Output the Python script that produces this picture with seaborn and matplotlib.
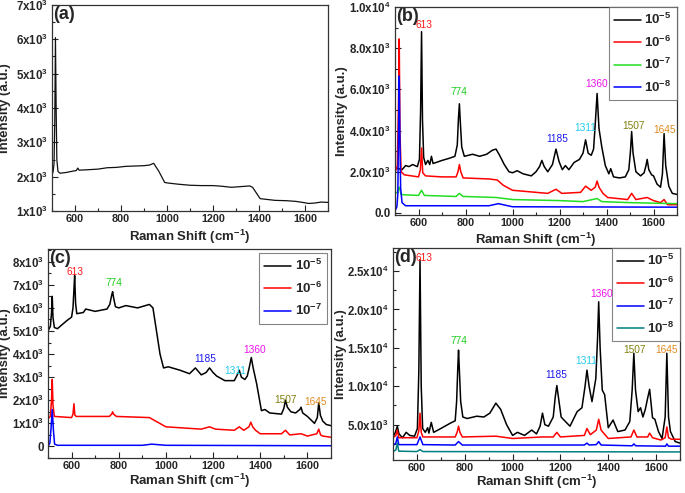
import matplotlib
matplotlib.use("Agg")
import matplotlib.pyplot as plt
from matplotlib.ticker import AutoMinorLocator
import seaborn as sns

# %% data
# panel (a): bare substrate
a_x = [500, 505, 509, 512, 515, 518, 521, 526, 535, 560, 590, 606, 612, 618, 650, 700, 740, 780, 820,
       860, 900, 925, 942, 965, 990, 1010, 1050, 1100, 1150, 1200, 1240, 1280, 1320, 1360, 1372,
       1405, 1430, 1470, 1520, 1560, 1590, 1615, 1640, 1670, 1700]
a_y = [2050, 2150, 2400, 3600, 6050, 4000, 2500, 2150, 2100, 2120, 2160, 2180, 2250, 2190, 2200, 2220,
       2260, 2270, 2300, 2310, 2320, 2340, 2390, 2150, 1830, 1810, 1780, 1750, 1740, 1740, 1720,
       1690, 1710, 1730, 1690, 1360, 1340, 1310, 1300, 1280, 1250, 1220, 1230, 1260, 1250]

# panel (b)
b5_x = [500, 515, 530, 545, 560, 575, 595, 604, 609, 613, 617, 622, 630, 640, 648, 655, 662, 675, 700,
        730, 755, 765, 770, 774, 778, 784, 795, 830, 860, 890, 915, 930, 945, 965, 985, 1000, 1020,
        1045, 1080, 1100, 1115, 1125, 1135, 1150, 1170, 1185, 1198, 1212, 1225, 1240, 1262, 1285,
        1300, 1311, 1322, 1335, 1345, 1352, 1360, 1368, 1380, 1395, 1410, 1418, 1430, 1455, 1480,
        1495, 1502, 1507, 1513, 1525, 1545, 1560, 1568, 1573, 1580, 1592, 1600, 1615, 1630, 1638,
        1645, 1652, 1665, 1680, 1700]
b5_y = [2200, 2150, 2100, 2300, 2250, 2350, 2250, 2600, 5000, 8800, 4500, 2700, 2350, 2550, 2350, 2750,
        2400, 2450, 2550, 2650, 2750, 3300, 4600, 5300, 4400, 3200, 2750, 2850, 2750, 2850, 3050,
        3100, 2800, 2350, 2000, 1950, 2050, 1900, 1800, 2000, 2250, 2550, 2250, 2000, 2350, 3100,
        2500, 2100, 2300, 2100, 2450, 2600, 2900, 3550, 2900, 2800, 3100, 4300, 5800, 4100, 3200,
        2300, 1900, 2150, 1750, 1700, 1750, 2100, 3000, 3950, 2900, 2000, 1800, 1950, 2300, 2600,
        2100, 1850, 1800, 1400, 1250, 1900, 3850, 2300, 1300, 950, 900]

b6_x = [500, 510, 515, 518, 521, 526, 540, 600, 608, 613, 618, 630, 700, 760, 768, 774, 780, 790, 900,
        935, 960, 1000, 1100, 1150, 1185, 1210, 1290, 1311, 1335, 1352, 1360, 1368, 1385, 1405, 1490,
        1507, 1525, 1573, 1600, 1630, 1645, 1660, 1700]
b6_y = [1950, 2300, 5500, 8450, 4000, 2000, 1850, 1750, 2100, 3150, 1950, 1800, 1750, 1750, 2000,
        2350, 2000, 1700, 1650, 1600, 1350, 1100, 1000, 950, 1150, 950, 1000, 1300, 1100, 1250,
        1550, 1250, 950, 750, 650, 950, 650, 750, 600, 500, 650, 400, 400]

b7_x = [500, 510, 518, 526, 540, 600, 613, 625, 760, 774, 790, 930, 1000, 1200, 1300, 1360, 1380, 1500,
        1700]
b7_y = [950, 1000, 1250, 900, 880, 850, 1100, 850, 800, 950, 800, 750, 650, 600, 550, 700, 550, 500,
        450]

b8_x = [500, 508, 512, 515, 518, 521, 524, 530, 545, 613, 900, 940, 1000, 1700]
b8_y = [100, 300, 900, 4000, 6650, 3500, 1200, 500, 350, 350, 350, 450, 300, 280]

# panel (c)
c5_x = [500, 510, 515, 518, 521, 527, 540, 580, 600, 606, 610, 613, 617, 622, 650, 660, 700, 750, 762,
        770, 774, 778, 786, 800, 830, 880, 930, 945, 960, 975, 990, 1010, 1060, 1100, 1125, 1150,
        1170, 1185, 1200, 1215, 1250, 1290, 1305, 1311, 1320, 1335, 1345, 1353, 1362, 1370, 1385,
        1405, 1420, 1440, 1490, 1500, 1507, 1515, 1530, 1550, 1568, 1573, 1580, 1600, 1630, 1642,
        1648, 1655, 1665, 1680, 1700]
c5_y = [5000, 5200, 5800, 6500, 5600, 5150, 5100, 5450, 5600, 6000, 6800, 7400, 6200, 5750, 5800,
        5950, 5850, 5950, 6150, 6550, 6700, 6450, 6050, 6000, 6100, 6000, 6150, 6000, 5000, 4000,
        3400, 3450, 3300, 3150, 3400, 3100, 3200, 3400, 3200, 3050, 2850, 2850, 3150, 3300, 3000,
        2900, 3050, 3400, 3850, 3400, 2700, 1550, 1600, 1450, 1400, 1650, 2000, 1700, 1500, 1450,
        1600, 1700, 1450, 1300, 1000, 1250, 1900, 1350, 1100, 950, 900]

c6_x = [500, 510, 515, 518, 521, 527, 600, 606, 610, 614, 620, 760, 770, 774, 778, 790, 930, 1000,
        1150, 1185, 1210, 1290, 1311, 1330, 1352, 1360, 1368, 1380, 1400, 1490, 1507, 1525, 1573,
        1600, 1640, 1648, 1656, 1665, 1700]
c6_y = [1200, 1300, 2000, 2900, 1800, 1300, 1250, 1400, 1850, 1350, 1300, 1300, 1400, 1500, 1400,
        1300, 1250, 850, 750, 850, 750, 700, 850, 700, 850, 1050, 850, 700, 550, 550, 700, 500,
        550, 450, 550, 750, 500, 450, 400]

c7_x = [500, 508, 513, 518, 523, 528, 540, 600, 900, 940, 1000, 1700]
c7_y = [0, 150, 800, 1600, 700, 100, 50, 50, 50, 100, 50, 30]

# panel (d)
d5_x = [500, 510, 518, 525, 540, 555, 570, 590, 602, 608, 613, 618, 624, 635, 645, 650, 660, 670, 700,
        740, 760, 766, 771, 774, 777, 783, 792, 810, 850, 880, 905, 930, 950, 975, 1000, 1020, 1050,
        1080, 1100, 1115, 1125, 1135, 1150, 1170, 1178, 1185, 1192, 1203, 1215, 1240, 1270, 1290,
        1303, 1311, 1320, 1332, 1348, 1355, 1360, 1366, 1375, 1385, 1400, 1420, 1440, 1470, 1490,
        1500, 1507, 1514, 1525, 1535, 1545, 1555, 1565, 1573, 1580, 1585, 1595, 1610, 1625, 1638,
        1645, 1652, 1660, 1680, 1700]
d5_y = [3400, 4000, 4800, 3800, 3300, 4000, 3600, 3500, 4500, 12000, 26500, 10000, 4500, 4000, 4600,
        3900, 5300, 4000, 4500, 5200, 5500, 8000, 12500, 14700, 12500, 8000, 6000, 5800, 6100,
        6000, 6500, 7800, 7000, 5000, 3600, 4000, 3600, 4300, 3800, 4800, 6500, 5000, 4800, 6000,
        8500, 10100, 8500, 6000, 5600, 4800, 6700, 7200, 10000, 12100, 10000, 8000, 11000, 16000,
        21000, 15000, 9500, 8900, 4600, 5600, 4100, 4300, 5400, 9500, 14300, 9500, 6700, 7200,
        6000, 7000, 8500, 9600, 7500, 5900, 5700, 4100, 3200, 6000, 14300, 6000, 4100, 2800, 2600]

d6_x = [500, 512, 518, 524, 600, 608, 613, 618, 625, 760, 768, 774, 780, 790, 930, 1000, 1125, 1170,
        1185, 1200, 1300, 1311, 1325, 1350, 1360, 1370, 1400, 1495, 1507, 1520, 1565, 1573, 1585,
        1620, 1638, 1645, 1652, 1665, 1700]
d6_y = [3300, 3600, 4300, 3300, 3300, 4200, 6500, 4000, 3400, 3400, 4000, 4800, 4000, 3400, 3500,
        3200, 3400, 3400, 4000, 3400, 3600, 4500, 3700, 4300, 5700, 4300, 3200, 3400, 4300, 3400,
        3400, 3900, 3300, 3000, 3300, 4700, 3300, 3100, 3100]

d7_x = [500, 512, 518, 524, 600, 613, 625, 760, 774, 790, 1300, 1311, 1320, 1350, 1360, 1370, 1500,
        1507, 1515, 1640, 1645, 1652, 1700]
d7_y = [2300, 2600, 3400, 2400, 2400, 3400, 2400, 2350, 2800, 2350, 2350, 2600, 2350, 2400, 2800,
        2350, 2250, 2500, 2250, 2200, 2500, 2200, 2200]

d8_x = [500, 512, 518, 524, 600, 613, 625, 1700]
d8_y = [1500, 1700, 2600, 1550, 1500, 1750, 1500, 1450]

legend_labels = ["$10^{-5}$", "$10^{-6}$", "$10^{-7}$", "$10^{-8}$"]
peak_labels = ["613", "774", "1185", "1311", "1360", "1507", "1645"]
peak_colors = ["#ff1a1a", "#22cc22", "#1a1aee", "#22ccee", "#ee11ee", "#808010", "#e08a20"]

a_yticks = [1000, 2000, 3000, 4000, 5000, 6000, 7000]
a_yticklabels = ["1x10$^3$", "2x10$^3$", "3x10$^3$", "4x10$^3$", "5x10$^3$", "6x10$^3$", "7x10$^3$"]
b_yticks = [0, 2000, 4000, 6000, 8000, 10000]
b_yticklabels = ["0.0", "2.0x10$^3$", "4.0x10$^3$", "6.0x10$^3$", "8.0x10$^3$", "1.0x10$^4$"]
c_yticks = [0, 1000, 2000, 3000, 4000, 5000, 6000, 7000, 8000]
c_yticklabels = ["0", "1x10$^3$", "2x10$^3$", "3x10$^3$", "4x10$^3$", "5x10$^3$", "6x10$^3$",
                 "7x10$^3$", "8x10$^3$"]
d_yticks = [5000, 10000, 15000, 20000, 25000]
d_yticklabels = ["5.0x10$^3$", "1.0x10$^4$", "1.5x10$^4$", "2.0x10$^4$", "2.5x10$^4$"]
xticks = [600, 800, 1000, 1200, 1400, 1600]

# %% style
sns.set_style("ticks")
plt.rcParams['font.family'] = ['Liberation Sans', 'DejaVu Sans']
plt.rcParams['mathtext.fontset'] = 'custom'
plt.rcParams['mathtext.rm'] = 'Liberation Sans:bold'
plt.rcParams['mathtext.bf'] = 'Liberation Sans:bold'
plt.rcParams['mathtext.it'] = 'Liberation Sans:bold'
plt.rcParams['mathtext.default'] = 'rm'

W, H = 685, 493
fig = plt.figure(figsize=(W / 100, H / 100), dpi=100)


def make_axes(left, top, right, bottom):
    return fig.add_axes([left / W, 1 - bottom / H, (right - left) / W, (bottom - top) / H])


def style_axes(ax, ylim, yticks, yticklabels, tag, ylabel_x, xlabel_pad):
    ax.set_xlim(500, 1700)
    ax.set_ylim(*ylim)
    ax.set_xticks(xticks)
    ax.set_yticks(yticks)
    ax.set_yticklabels(yticklabels)
    ax.xaxis.set_minor_locator(AutoMinorLocator(2))
    ax.yaxis.set_minor_locator(AutoMinorLocator(2))
    ax.tick_params(which='both', direction='in', top=False, right=False, width=0.8,
                   color='#222222')
    ax.tick_params(axis='x', labelsize=7.8, pad=2)
    ax.tick_params(axis='y', labelsize=8.3, pad=3)
    ax.tick_params(which='major', length=4)
    ax.tick_params(which='minor', length=2)
    for lab in ax.get_xticklabels() + ax.get_yticklabels():
        lab.set_fontweight('bold')
    for sp in ax.spines.values():
        sp.set_linewidth(0.9)
        sp.set_color('#333333')
    ax.set_xlabel("Raman Shift (cm$^{-1}$)", fontsize=9.5, fontweight='bold', labelpad=xlabel_pad)
    ax.set_ylabel("Intensity (a.u.)", fontsize=9.5, fontweight='bold')
    ax.yaxis.set_label_coords(ylabel_x, 0.5)
    ax.text(0.004, 0.997, tag, transform=ax.transAxes, ha='left', va='top', fontsize=13,
            fontweight='bold')


def add_peaks(ax, positions):
    for lab, col, (px, py) in zip(peak_labels, peak_colors, positions):
        ax.text(px, py, lab, color=col, fontsize=7.3, ha='center', va='bottom')


def add_legend(ax, pad):
    leg = ax.legend(loc='upper right', fontsize=9.5, frameon=True, fancybox=False, borderaxespad=pad,
                    handlelength=2.0, handletextpad=0.3, labelspacing=0.55, borderpad=0.4)
    leg.get_frame().set_edgecolor('#666666')
    leg.get_frame().set_linewidth(0.8)


lw = 1.1

# %% (a)
ax_a = make_axes(52, 5, 328, 211)
sns.lineplot(x=a_x, y=a_y, ax=ax_a, color='#111111', lw=0.9, sort=False)
style_axes(ax_a, (1000, 7000), a_yticks, a_yticklabels, "(a)", -0.15, 3)

# %% (b)
ax_b = make_axes(395, 7, 677, 215)
for xs, ys, col, lab in [(b5_x, b5_y, 'black', legend_labels[0]), (b6_x, b6_y, '#ff0000', legend_labels[1]),
                         (b7_x, b7_y, '#22dd22', legend_labels[2]), (b8_x, b8_y, '#0000ff', legend_labels[3])]:
    sns.lineplot(x=xs, y=ys, ax=ax_b, color=col, lw=lw, sort=False, label=lab)
style_axes(ax_b, (-100, 10000), b_yticks, b_yticklabels, "(b)", -0.165, 2)
add_peaks(ax_b, [(624, 8900), (772, 5650), (1192, 3350), (1310, 3900), (1356, 6000), (1517, 4000),
                 (1645, 3800)])
add_legend(ax_b, 0)

# %% (c)
ax_c = make_axes(48, 249, 331, 458)
for xs, ys, col, lab in [(c5_x, c5_y, 'black', legend_labels[0]), (c6_x, c6_y, '#ff0000', legend_labels[1]),
                         (c7_x, c7_y, '#0000ff', legend_labels[2])]:
    sns.lineplot(x=xs, y=ys, ax=ax_c, color=col, lw=lw, sort=False, label=lab)
style_axes(ax_c, (-500, 8550), c_yticks, c_yticklabels, "(c)", -0.13, 1)
add_peaks(ax_c, [(616, 7350), (778, 6850), (1165, 3550), (1294, 3050), (1374, 3950), (1506, 1800),
                 (1633, 1700)])
add_legend(ax_c, 0.3)

# %% (d)
ax_d = make_axes(393, 248, 680, 460)
for xs, ys, col, lab in [(d5_x, d5_y, 'black', legend_labels[0]), (d6_x, d6_y, '#ff0000', legend_labels[1]),
                         (d7_x, d7_y, '#0000ff', legend_labels[2]), (d8_x, d8_y, '#008080', legend_labels[3])]:
    sns.lineplot(x=xs, y=ys, ax=ax_d, color=col, lw=lw, sort=False, label=lab)
style_axes(ax_d, (400, 28000), d_yticks, d_yticklabels, "(d)", -0.16, 0)
add_peaks(ax_d, [(630, 26000), (775, 15200), (1183, 10800), (1306, 12600), (1372, 21400), (1511, 14100),
                 (1644, 14100)])
add_legend(ax_d, 0)

fig.savefig("out.png", dpi=100)
